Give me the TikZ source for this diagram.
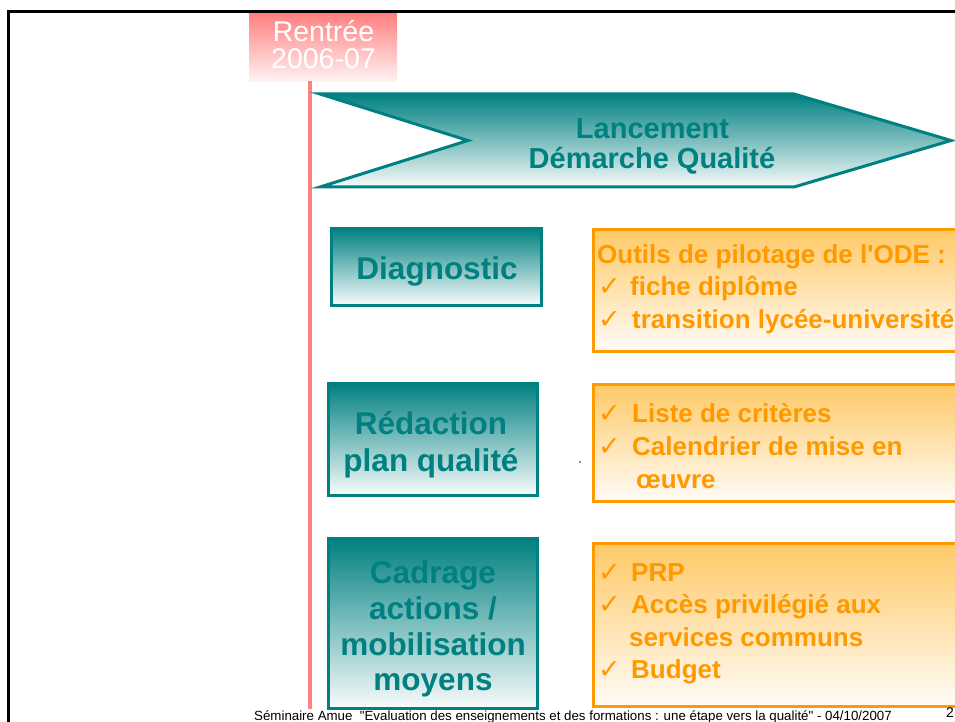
\documentclass[tikz,border=0pt]{standalone}
\usepackage{fontspec}
\setmainfont{Liberation Sans}
\newfontfamily\symfont{DejaVu Sans}
\definecolor{tealc}{HTML}{008080}
\definecolor{tealmid}{HTML}{C2D2D1}
\definecolor{tealbot}{HTML}{F8FBFB}
\definecolor{orgc}{HTML}{FF9900}
\definecolor{orgtop}{HTML}{FFC966}
\definecolor{orgmid}{HTML}{FFE4BA}
\definecolor{orgbot}{HTML}{FFFCF8}
\definecolor{pinkc}{HTML}{FF8080}
\definecolor{pinkbot}{HTML}{FFF2F2}
\tikzset{
  tealbox/.style={draw=tealc, line width=3pt, top color=tealc, middle color=tealmid, bottom color=tealbot, inner sep=0pt},
  orgbox/.style={draw=orgc, line width=3pt, top color=orgtop, middle color=orgmid, bottom color=orgbot, inner sep=0pt, anchor=north west},
  tealtxt/.style={text=tealc, font=\fontsize{31.5}{36}\selectfont\bfseries, anchor=base, inner sep=0pt},
  bantxt/.style={text=tealc, font=\fontsize{29}{33}\selectfont\bfseries, anchor=base, inner sep=0pt},
  orgtxt/.style={text=orgc, font=\fontsize{26}{30}\selectfont\bfseries, anchor=base west, inner sep=0pt},
  chk/.style={text=orgc, font=\symfont\fontsize{27}{30}\selectfont, anchor=base west, inner sep=0pt},
  renttxt/.style={text=white, font=\fontsize{28.5}{27}\selectfont, anchor=base, inner sep=0pt},
}
\begin{document}
\begin{tikzpicture}[x=1pt,y=-1pt]
\useasboundingbox (0,0) rectangle (955,722);
\clip (0,0) rectangle (955,722);
% frame
\coordinate (fa) at (8.7,730);
\coordinate (fb) at (8.7,11.5);
\coordinate (fc) at (960,11.5);
\draw[line width=2.8pt] (fa) -- (fb) -- (fc);
% Rentree box
\node[draw=none, top color=pinkc, bottom color=pinkbot, minimum width=148pt, minimum height=68pt, inner sep=0pt, anchor=north west] (rent) at (249,13) {};
\node[renttxt] (r1) at (323.5,42) {Rentrée};
\node[renttxt] (r2) at (323.5,69) {2006-07};
% timeline
\coordinate (tl) at (310,709);
\draw[pinkc, line width=3.5pt] (rent.south -| tl) -- (tl);
% banner
\filldraw[draw=tealc, line width=3pt, top color=tealc, middle color=tealmid, bottom color=tealbot, line join=miter]
  (320,94) -- (794,94) -- (951,140.5) -- (794,187) -- (320,187) -- (468,140.5) -- cycle;
\node[bantxt] (b1) at (652.5,139) {Lancement};
\node[bantxt] (b2) at (652,168) {Démarche Qualité};
% teal boxes
\node[tealbox, minimum width=210pt, minimum height=77pt] (diag) at (436,266.5) {};
\node[tealtxt] (d1) at (437,279) {Diagnostic};
\node[tealbox, minimum width=209pt, minimum height=112pt] (redac) at (432.5,439) {};
\node[tealtxt] (e1) at (431,434) {Rédaction};
\node[tealtxt] (e2) at (431,471) {plan qualité};
\node[tealbox, minimum width=209pt, minimum height=170pt] (cadr) at (432.5,623) {};
\node[tealtxt] (c1) at (433,583) {Cadrage};
\node[tealtxt] (c2) at (433,619) {actions /};
\node[tealtxt] (c3) at (433,655) {mobilisation};
\node[tealtxt] (c4) at (433,690.5) {moyens};
% orange boxes
\node[orgbox, minimum width=390pt, minimum height=122pt] (o1) at (592,228) {};
\node[orgtxt] (o1a) at (597,263) {Outils de pilotage de l\textquotesingle ODE :};
\node[chk] (o1k1) at (598,295.5) {✓};
\node[orgtxt] (o1b) at (630,295.5) {fiche diplôme};
\node[chk] (o1k2) at (598,328) {✓};
\node[orgtxt] (o1c) at (632,328) {transition lycée-université};
\node[orgbox, minimum width=390pt, minimum height=117pt] (o2) at (592,383) {};
\node[chk] (o2k1) at (598,422.5) {✓};
\node[orgtxt] (o2a) at (632,422.5) {Liste de critères};
\node[chk] (o2k2) at (598,455) {✓};
\node[orgtxt] (o2b) at (632,455) {Calendrier de mise en};
\node[orgtxt] (o2c) at (636,488) {œuvre};
\node[orgbox, minimum width=390pt, minimum height=163pt] (o3) at (592,542) {};
\node[chk] (o3k1) at (598,581) {✓};
\node[orgtxt] (o3a) at (631,581) {PRP};
\node[chk] (o3k2) at (598,613) {✓};
\node[orgtxt] (o3b) at (631,613) {Accès privilégié aux};
\node[orgtxt] (o3c) at (629,646) {services communs};
\node[chk] (o3k3) at (598,678) {✓};
\node[orgtxt] (o3d) at (631,678) {Budget};
% small mark
\fill[blue!60!black] (580,462) circle (0.9pt);
% footer
\node[anchor=base west, inner sep=0pt, font=\fontsize{13.3}{15}\selectfont] (foot) at (254,720) {Séminaire Amue\ \ \textquotedbl Evaluation des enseignements et des formations : une étape vers la qualité\textquotedbl\ - 04/10/2007};
\node[anchor=base west, inner sep=0pt, font=\fontsize{14}{16}\selectfont] (pg) at (946,717) {2};
\end{tikzpicture}
\end{document}
